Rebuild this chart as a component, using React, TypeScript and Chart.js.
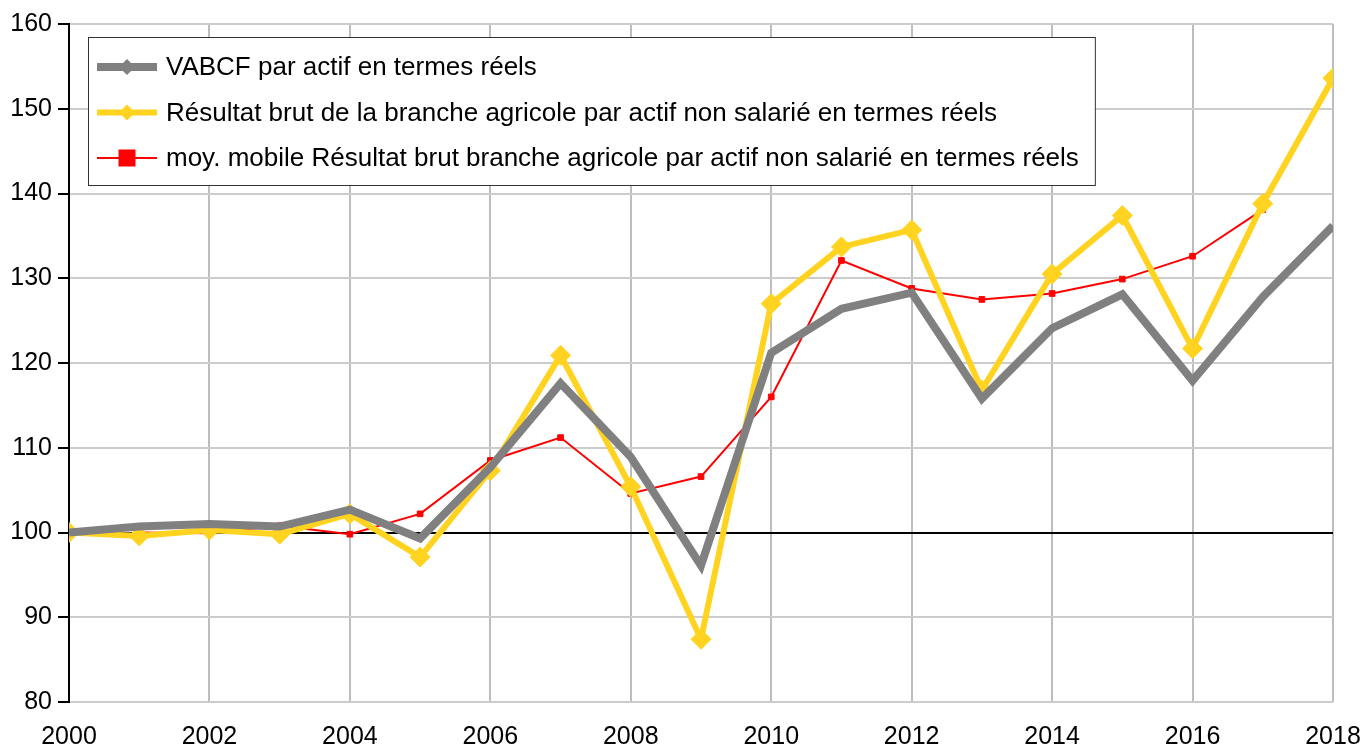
import React, { useEffect, useRef } from "react";
import { Chart, registerables } from "chart.js";

Chart.register(...registerables);

const FONT_FAMILY = '"Liberation Sans", Arial, sans-serif';

// ---- Data ----
const years = [2000, 2001, 2002, 2003, 2004, 2005, 2006, 2007, 2008, 2009, 2010, 2011, 2012, 2013, 2014, 2015, 2016, 2017, 2018];

const vabcfLabel = "VABCF par actif en termes réels";
const vabcf = [100.0, 100.7, 101.0, 100.7, 102.7, 99.3, 107.7, 117.6, 108.9, 96.1, 121.2, 126.4, 128.3, 115.8, 124.1, 128.1, 117.9, 127.8, 136.2];

const resultatLabel = "Résultat brut de la branche agricole par actif non salarié en termes réels";
const resultat = [100.0, 99.6, 100.3, 99.8, 102.2, 97.1, 107.3, 120.9, 105.4, 87.4, 127.0, 133.7, 135.7, 116.8, 130.5, 137.4, 121.7, 138.8, 153.6];

const moyMobileLabel = "moy. mobile Résultat brut branche agricole par actif non salarié en termes réels";
const moyMobile: (number | null)[] = [null, 100.0, 99.9, 100.8, 99.8, 102.2, 108.5, 111.2, 104.6, 106.6, 116.0, 132.1, 128.8, 127.5, 128.2, 129.9, 132.6, 138.1, null];

const yMin = 80;
const yMax = 160;
const yStep = 10;
const xStep = 2;
const referenceLevel = 100;

const toPoints = (vals: (number | null)[]) => years.map((x, i) => ({ x, y: vals[i] }));

const boxLegendPlugin = {
  id: "boxLegend",
  afterDraw(chart: any) {
    const ctx = chart.ctx;
    const area = chart.chartArea;
    const datasets = chart.data.datasets;
    ctx.save();
    ctx.font = `26px ${FONT_FAMILY}`;
    const left = area.left + 19;
    const top = area.top + 13;
    const sampleX = left + 9;
    const sampleW = 60;
    const textX = left + 78;
    const firstRow = 30;
    const rowH = 45.5;
    let maxW = 0;
    datasets.forEach((d: any) => {
      maxW = Math.max(maxW, ctx.measureText(d.label).width);
    });
    const w = textX - left + maxW + 16;
    const h = firstRow + rowH * (datasets.length - 1) + 27;
    ctx.fillStyle = "#ffffff";
    ctx.fillRect(left, top, w, h);
    ctx.strokeStyle = "#333333";
    ctx.lineWidth = 1;
    ctx.strokeRect(left + 0.5, top + 0.5, w, h);

    datasets.forEach((d: any, i: number) => {
      const y = top + firstRow + i * rowH;
      ctx.strokeStyle = d.borderColor;
      ctx.lineWidth = d.borderWidth;
      ctx.lineCap = "butt";
      ctx.beginPath();
      ctx.moveTo(sampleX, y);
      ctx.lineTo(sampleX + sampleW, y);
      ctx.stroke();
      const cx = sampleX + sampleW / 2;
      const r = d.legendMarkerSize;
      ctx.fillStyle = d.borderColor;
      ctx.beginPath();
      if (d.legendMarker === "square") {
        ctx.rect(cx - r, y - r, 2 * r, 2 * r);
      } else {
        ctx.moveTo(cx - r, y);
        ctx.lineTo(cx, y - r);
        ctx.lineTo(cx + r, y);
        ctx.lineTo(cx, y + r);
        ctx.closePath();
      }
      ctx.fill();
      ctx.fillStyle = "#000000";
      ctx.textBaseline = "middle";
      ctx.textAlign = "left";
      ctx.fillText(d.label, textX, y + 1);
    });
    ctx.restore();
  },
};

export default function App() {
  const canvasRef = useRef<HTMLCanvasElement | null>(null);

  useEffect(() => {
    if (!canvasRef.current) return;
    const chart = new Chart(canvasRef.current, {
      type: "line",
      data: {
        datasets: [
          {
            label: vabcfLabel,
            data: toPoints(vabcf),
            borderColor: "#808080",
            backgroundColor: "#808080",
            borderWidth: 8,
            pointRadius: 0,
            pointStyle: "rectRot",
            tension: 0,
            borderJoinStyle: "miter",
            legendMarker: "diamond",
            legendMarkerSize: 8,
          } as any,
          {
            label: resultatLabel,
            data: toPoints(resultat),
            borderColor: "#FFD320",
            backgroundColor: "#FFD320",
            borderWidth: 6,
            pointRadius: 10,
            pointBorderWidth: 1,
            pointStyle: "rectRot",
            tension: 0,
            borderJoinStyle: "miter",
            legendMarker: "diamond",
            legendMarkerSize: 8,
          } as any,
          {
            label: moyMobileLabel,
            data: toPoints(moyMobile),
            borderColor: "#FF0000",
            backgroundColor: "#FF0000",
            borderWidth: 2,
            pointRadius: 4,
            pointBorderWidth: 1,
            pointStyle: "rect",
            tension: 0,
            spanGaps: false,
            legendMarker: "square",
            legendMarkerSize: 8.5,
          } as any,
        ],
      },
      options: {
        animation: false,
        responsive: true,
        maintainAspectRatio: false,
        layout: { padding: { top: 24, right: 32, bottom: 0, left: 0 } },
        plugins: {
          legend: { display: false },
          tooltip: { enabled: false },
        },
        scales: {
          x: {
            type: "linear",
            min: years[0],
            max: years[years.length - 1],
            ticks: {
              stepSize: xStep,
              callback: (v: any) => String(v),
              color: "#000000",
              font: { size: 25, family: FONT_FAMILY },
              padding: 20,
              maxRotation: 0,
              autoSkip: false,
            },
            grid: { color: "#bdbdbd", lineWidth: 2, drawTicks: false },
            border: { display: false },
            afterFit: (s: any) => {
              s.height = 46;
              s.paddingLeft = 0;
              s.paddingRight = 0;
            },
          },
          y: {
            min: yMin,
            max: yMax,
            ticks: {
              stepSize: yStep,
              color: "#000000",
              font: { size: 25, family: FONT_FAMILY },
              padding: 6,
            },
            grid: {
              color: (c: any) => (c.tick && c.tick.value === referenceLevel ? "#000000" : "#cccccc"),
              lineWidth: 2,
              tickLength: 11,
              tickColor: "#000000",
              tickWidth: 2,
            },
            border: { color: "#000000", width: 2 },
            afterFit: (s: any) => {
              s.width = 69;
            },
          },
        },
      } as any,
      plugins: [boxLegendPlugin],
    });
    return () => chart.destroy();
  }, []);

  return (
    <div style={{ position: "absolute", left: 0, top: 0, width: 1365, height: 748 }}>
      <canvas ref={canvasRef} />
    </div>
  );
}
